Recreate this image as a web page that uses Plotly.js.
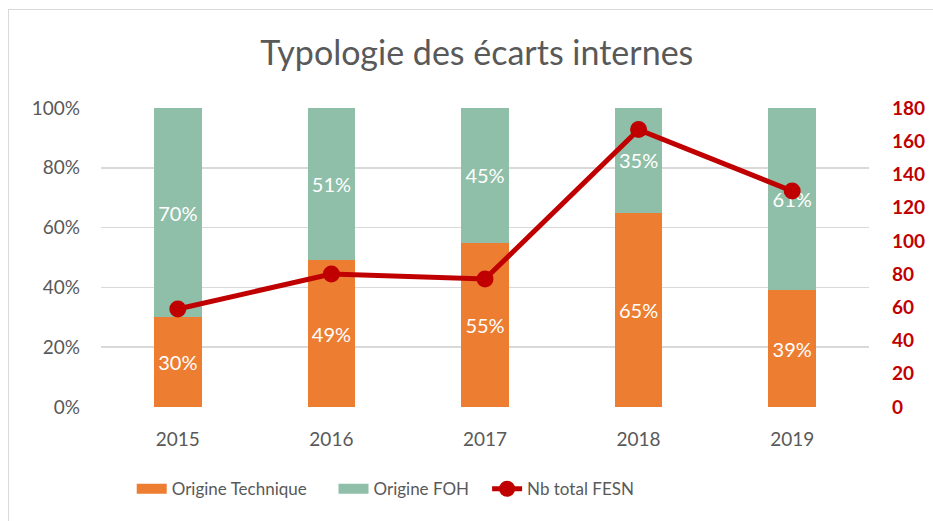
<!DOCTYPE html>
<html><head><meta charset="utf-8">
<script src="https://cdn.plot.ly/plotly-3.0.1.min.js"></script>
<style>html,body{margin:0;padding:0;background:#fff;}#wrap{position:relative;width:933px;height:521px;overflow:hidden;}
#frame{position:absolute;left:8px;top:9px;width:940px;height:540px;border:1.5px solid #d9d9d9;box-sizing:border-box;pointer-events:none;}
#chart{position:absolute;left:0;top:0;width:933px;height:521px;}</style>
</head><body><div id="wrap"><div id="chart"></div><div id="frame"></div></div>
<script>
const years = ['2015','2016','2017','2018','2019'];
const techPct = [30, 49, 55, 65, 39];
const fohPct = [70, 51, 45, 35, 61];
const totalFESN = [59, 80, 77, 167, 130];
const leftTicks = [0,20,40,60,80,100];
const rightTicks = [0,20,40,60,80,100,120,140,160,180];
const seriesNames = ['Origine Technique', 'Origine FOH', 'Nb total FESN'];
const seriesColors = ['#ED7D31', '#8FBFA8', '#C00000'];

const font = 'Lato, "Open Sans", sans-serif';
const grey = '#595959';
const traces = [
  {type:'bar', name:seriesNames[0], x:years, y:techPct, marker:{color:seriesColors[0]}, showlegend:false,
   texttemplate:'%{y}%', textposition:'inside', insidetextanchor:'middle',
   textfont:{color:'#fff', size:20, family:font}, hoverinfo:'skip'},
  {type:'bar', name:seriesNames[1], x:years, y:fohPct, marker:{color:seriesColors[1]}, showlegend:false,
   texttemplate:'%{y}%', textposition:'inside', insidetextanchor:'middle',
   textfont:{color:'#fff', size:20, family:font}, hoverinfo:'skip'},
  {type:'scatter', mode:'lines', name:seriesNames[0] + '\u00a0\u00a0\u00a0\u00a0\u00a0', x:[null], y:[null], line:{color:seriesColors[0], width:12}},
  {type:'scatter', mode:'lines', name:seriesNames[1] + '\u00a0\u00a0\u00a0', x:[null], y:[null], line:{color:seriesColors[1], width:12}},
  {type:'scatter', mode:'lines+markers', name:seriesNames[2], x:years, y:totalFESN, yaxis:'y2',
   line:{color:seriesColors[2], width:5}, marker:{color:seriesColors[2], size:17}}
];
const layout = {
  width:933, height:521,
  margin:{l:101, r:64, t:108, b:114},
  paper_bgcolor:'rgba(0,0,0,0)', plot_bgcolor:'rgba(0,0,0,0)',
  barmode:'stack', bargap:0.69,
  font:{family:font, color:grey},
  title:{text:'Typologie des écarts internes', font:{size:34, color:grey, family:font}, x:0.511, xanchor:'center', y:0.898, yanchor:'middle'},
  xaxis:{tickfont:{size:19, color:grey}, showgrid:false, zeroline:false, ticks:'', showline:false, ticklabelstandoff:19},
  yaxis:{range:[0,100], tickvals:leftTicks, ticktext:leftTicks.map(v=>v+'%'), tickfont:{size:19, color:grey},
         showgrid:true, gridcolor:'#d9d9d9', gridwidth:1.5, zeroline:false, ticklabelstandoff:20, fixedrange:true},
  yaxis2:{range:[0,180], tickvals:rightTicks, overlaying:'y', side:'right', showgrid:false, zeroline:false,
          tickfont:{size:19, color:'#C00000', family:font, weight:'bold'}, ticklabelstandoff:22},
  legend:{orientation:'h', x:0.04, xanchor:'left', y:-0.275, yanchor:'middle', font:{size:17, color:grey}, traceorder:'normal'},
  showlegend:true
};
Plotly.newPlot('chart', traces, layout, {displayModeBar:false, staticPlot:true});
</script></body></html>
